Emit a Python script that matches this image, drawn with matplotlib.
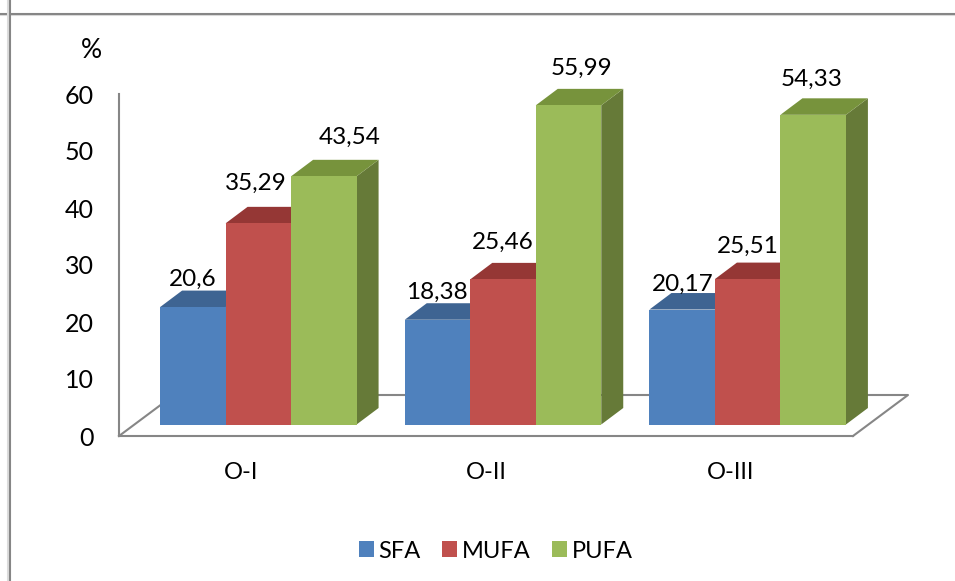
import matplotlib
matplotlib.use("Agg")
import matplotlib.pyplot as plt
from matplotlib.lines import Line2D
from matplotlib.patches import Patch, Polygon
from matplotlib.transforms import ScaledTranslation

plt.rcParams['font.family'] = ['Lato', 'DejaVu Sans']

groups = ["O-I", "O-II", "O-III"]
series = ["SFA", "MUFA", "PUFA"]
sfa = [20.6, 18.38, 20.17]
mufa = [35.29, 25.46, 25.51]
pufa = [43.54, 55.99, 54.33]
y_ticks = [0, 10, 20, 30, 40, 50, 60]

front_col = ["#4F81BD", "#C0504D", "#9BBB59"]
top_col = ["#3E6492", "#953735", "#77933C"]
side_col = ["#37587F", "#7F3230", "#667A38"]
grey = "#868686"
shadow = "#DCDCDC"

W, H = 955, 581
bar_w = 0.2677
# shift of the bar fronts from the floor corner, and depth of the boxes (px)
front_dx, front_dy = 17, 11.5
depth_dx, depth_dy = 22, 16.5

# label nudges from the middle of each bar top, px
nudge = [[(0, 28), (-3, 40), (26, 39)],
         [(-1, 27), (0, 37), (13, 37)],
         [(1, 25), (0, 33), (-2, 35)]]

fig = plt.figure(figsize=(W / 100, H / 100), dpi=100)
ax = fig.add_axes([119 / W, 1 - 436 / H, (853 - 119) / W, (436 - 94) / H])
ax.set_xlim(-0.5, 2.5)
ax.set_ylim(0, 60)
ax.patch.set_visible(False)


def px(dx, dy):
    return ScaledTranslation(dx / 100, dy / 100, fig.dpi_scale_trans)


# outer frame: only top and left edges show
for xs, ys, c in [([0, 1], [1 - 15 / H] * 2, shadow), ([0, 1], [1 - 13.5 / H] * 2, grey),
                  ([8 / W] * 2, [0, 1], shadow), ([10 / W] * 2, [0, 1], grey)]:
    fig.add_artist(Line2D(xs, ys, color=c, lw=1.5, transform=fig.transFigure))

# floor
ax.spines[['top', 'right']].set_visible(False)
ax.spines[['left', 'bottom']].set_color(grey)
ax.spines[['left', 'bottom']].set_linewidth(1.5)
ax.plot([-0.5, -0.5 + 55 / 244.67, 2.5 + 55 / 244.67, 2.5], [0, 41 / 5.7, 41 / 5.7, 0],
        color=grey, lw=1.5, clip_on=False, zorder=1)

front = ax.transData + px(front_dx, front_dy)
to_top = front + px(depth_dx, depth_dy)

values = [sfa, mufa, pufa]
for g in range(len(groups)):
    for s in range(len(series)):
        v = values[s][g]
        x0 = g + (s - 1) * bar_w - bar_w / 2
        x1 = x0 + bar_w
        # each bar in turn so the next front covers the last side
        ax.add_patch(Polygon(
            [front.transform((x1, 0)), to_top.transform((x1, 0)),
             to_top.transform((x1, v)), front.transform((x1, v))],
            closed=True, transform=None, fc=side_col[s], ec='none', zorder=3 + g * 3 + s * 3,
            clip_on=False))
        ax.add_patch(Polygon(
            [front.transform((x0, v)), front.transform((x1, v)),
             to_top.transform((x1, v)), to_top.transform((x0, v))],
            closed=True, transform=None, fc=top_col[s], ec='none', zorder=3 + g * 3 + s * 3,
            clip_on=False))
        ax.bar(x0 + bar_w / 2, v, bar_w, color=front_col[s], transform=front,
               zorder=4 + g * 3 + s * 3, clip_on=False)
        nx, ny = nudge[g][s]
        ax.annotate(str(v).replace('.', ','), (x0 + bar_w / 2, v), xycoords=front,
                    xytext=(nx * 0.72, ny * 0.72), textcoords='offset points',
                    ha='center', va='center', fontsize=17.5, color='black', zorder=50)

ax.set_xticks(range(len(groups)), groups)
ax.set_yticks(y_ticks)
ax.tick_params(axis='x', length=0, pad=19, labelsize=17)
ax.tick_params(axis='y', length=0, pad=18, labelsize=18)

ax.text(91 / W, 1 - 51 / H, "%", transform=fig.transFigure, ha='center', va='center', fontsize=19)

handles = [Patch(fc=c, ec='none', label=n) for c, n in zip(front_col, series)]
fig.legend(handles=handles, loc='center', bbox_to_anchor=(496 / W, 1 - 551 / H), ncol=3,
           frameon=False, fontsize=17, handlelength=0.64, handleheight=0.64,
           handletextpad=0.21, columnspacing=0.9)

fig.savefig("out.png", dpi=100)
